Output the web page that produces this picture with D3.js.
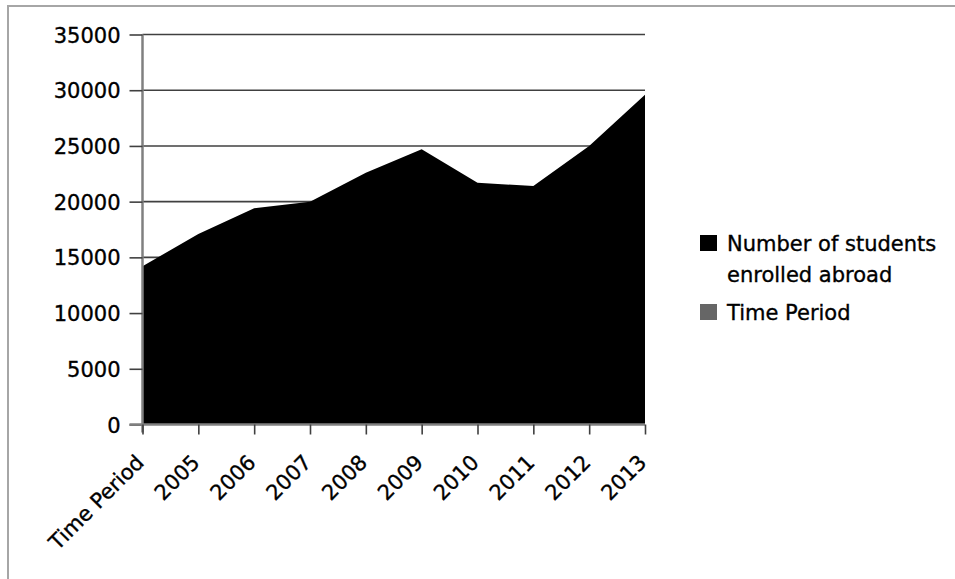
<!DOCTYPE html>
<html>
<head>
<meta charset="utf-8">
<script src="https://cdn.jsdelivr.net/npm/d3@7"></script>
<style>
  body { margin: 0; background: #fff; }
  text { font-family: "DejaVu Sans", sans-serif; fill: #000; stroke: #000; stroke-width: 0.35px; }
</style>
</head>
<body>
<svg id="chart" width="955" height="579"></svg>
<script>
// chart data
const categories = ["Time Period", "2005", "2006", "2007", "2008", "2009", "2010", "2011", "2012", "2013"];
const students = [14200, 17100, 19400, 20000, 22600, 24700, 21700, 21400, 25000, 29600];
const yTicks = [0, 5000, 10000, 15000, 20000, 25000, 30000, 35000];
const legendItems = [
  { lines: ["Number of students", "enrolled abroad"], color: "#000" },
  { lines: ["Time Period"], color: "#666" }
];

const svg = d3.select("#chart");

// frame (only top + left edges visible in the crop)
svg.append("path")
  .attr("d", "M8,579V6H955")
  .attr("fill", "none")
  .attr("stroke", "#a6a6a6")
  .attr("stroke-width", 2);

const x = d3.scalePoint().domain(categories).range([142.5, 645]);
const y = d3.scaleLinear().domain([0, 35000]).range([424.5, 34.5]);

// gridlines
svg.append("g")
  .selectAll("line")
  .data(yTicks.filter(d => d > 0))
  .enter().append("line")
    .attr("x1", 142.5).attr("x2", 645)
    .attr("y1", d => y(d)).attr("y2", d => y(d))
    .attr("stroke", "#404040")
    .attr("stroke-width", 1.6);

// area
const area = d3.area()
  .x((d, i) => x(categories[i]))
  .y0(y(0))
  .y1(d => y(d));

svg.append("path")
  .datum(students)
  .attr("d", area)
  .attr("fill", "#000");

// y axis
const yAxis = svg.append("g")
  .attr("transform", "translate(142.5,0)")
  .call(d3.axisLeft(y).tickValues(yTicks).tickFormat(d3.format("d"))
    .tickSize(13).tickPadding(9).tickSizeOuter(0));
yAxis.select(".domain").attr("stroke", "#808080").attr("stroke-width", 2.5)
  .attr("d", "M0," + y(35000) + "V" + (y(0) + 8));
yAxis.selectAll(".tick line").attr("stroke", "#404040").attr("stroke-width", 1.6);
yAxis.selectAll(".tick text").style("font-size", "21px").attr("dy", "0.36em");

// x axis
const xAxis = svg.append("g")
  .attr("transform", "translate(0," + y(0) + ")")
  .call(d3.axisBottom(x).tickSize(10).tickSizeOuter(0).tickFormat(d => d));
xAxis.select(".domain").attr("stroke", "#808080").attr("stroke-width", 2.5)
  .attr("d", "M" + (x(categories[0]) - 13) + ",0H645");
xAxis.selectAll(".tick line").attr("stroke", "#404040").attr("stroke-width", 1.6);
xAxis.selectAll(".tick text")
  .style("font-size", "21px")
  .attr("text-anchor", "end")
  .attr("y", 0)
  .attr("dy", "0.35em")
  .attr("transform", "translate(-3,34) rotate(-45)");

// legend
const legend = svg.append("g").attr("transform", "translate(700,235)");
let ly = 0;
legendItems.forEach(item => {
  const g = legend.append("g").attr("transform", "translate(0," + ly + ")");
  g.append("rect").attr("width", 17).attr("height", 16).attr("fill", item.color);
  item.lines.forEach((t, k) => {
    g.append("text")
      .attr("x", 27).attr("y", 16 + k * 31)
      .style("font-size", "21px")
      .text(t);
  });
  ly += item.lines.length * 31 + 7;
});
</script>
</body>
</html>
